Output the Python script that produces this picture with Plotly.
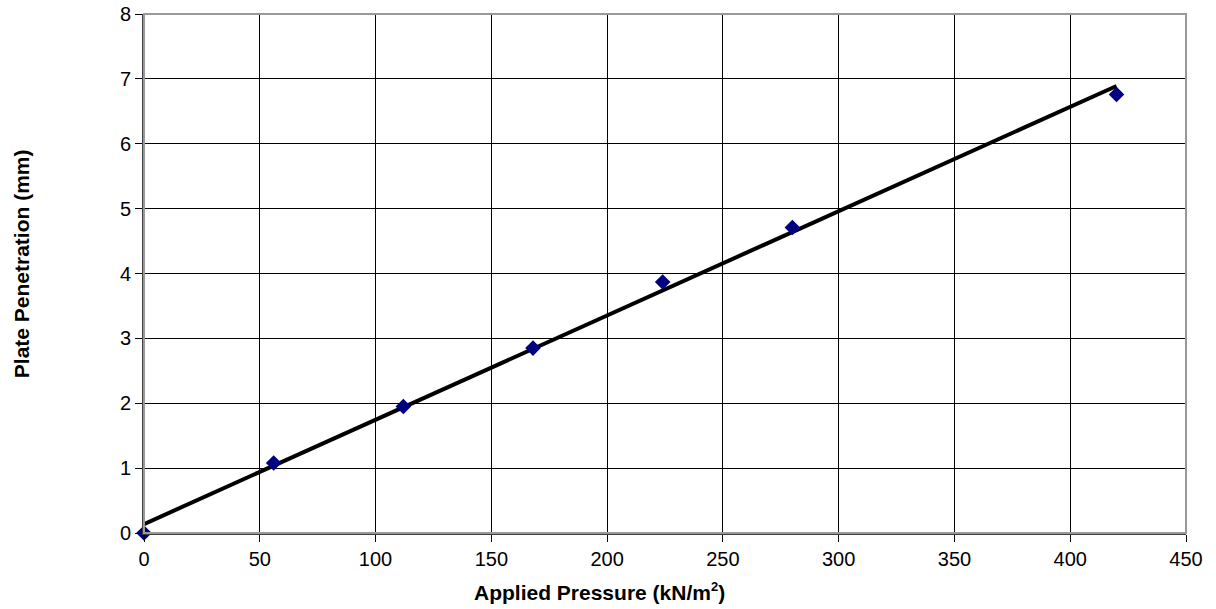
import numpy as np
import plotly.graph_objects as go

# Plate load test readings
pressure = [0, 56, 112, 168, 224, 280, 420]            # kN/m²
penetration = [0.0, 1.08, 1.95, 2.85, 3.87, 4.71, 6.76]  # mm

x_ticks = [0, 50, 100, 150, 200, 250, 300, 350, 400, 450]
y_ticks = [0, 1, 2, 3, 4, 5, 6, 7, 8]

# Least-squares linear trend line through the readings
slope, intercept = np.polyfit(pressure, penetration, 1)
trend_x = [min(pressure), max(pressure)]
trend_y = [slope * v + intercept for v in trend_x]

fig = go.Figure()
fig.add_trace(go.Scatter(
    x=trend_x, y=trend_y, mode="lines",
    line=dict(color="black", width=4), hoverinfo="skip", showlegend=False,
))
fig.add_trace(go.Scatter(
    x=pressure, y=penetration, mode="markers",
    marker=dict(symbol="diamond", size=12, color="#000080"),
    showlegend=False, cliponaxis=False,
))

font_family = "Liberation Sans, Arial, sans-serif"
axis_common = dict(
    showgrid=True, gridcolor="black", gridwidth=1, automargin=False,
    zeroline=False, showline=True, linecolor="#404040", linewidth=2,
    ticks="outside", ticklen=7, tickcolor="black", tickwidth=1,
    tickfont=dict(family=font_family, size=20, color="black"),
)

fig.update_layout(
    width=1216, height=609,
    margin=dict(l=144, r=30, t=14, b=76),
    paper_bgcolor="white", plot_bgcolor="white",
    xaxis=dict(range=[0, 450], tickvals=x_ticks, **axis_common),
    yaxis=dict(range=[0, 8], tickvals=y_ticks, **axis_common),
    shapes=[dict(
        type="rect", xref="x domain", yref="y domain", x0=0, x1=1, y0=0, y1=1,
        line=dict(color="#999999", width=2), layer="above",
    )],
    annotations=[
        dict(text="<b>Applied Pressure (kN/m<sup><span style='font-size:13px'>2</span></sup>)</b>",
             xref="paper", yref="paper",
             x=0.4376, y=-0.112, xanchor="center", yanchor="middle", showarrow=False,
             font=dict(family=font_family, size=21, color="black")),
        dict(text="<b>Plate Penetration (mm)</b>", xref="paper", yref="paper",
             x=-0.118, y=0.518, xanchor="center", yanchor="middle", showarrow=False,
             textangle=-90, font=dict(family=font_family, size=21, color="black")),
    ],
)

fig.write_html("out.html")
